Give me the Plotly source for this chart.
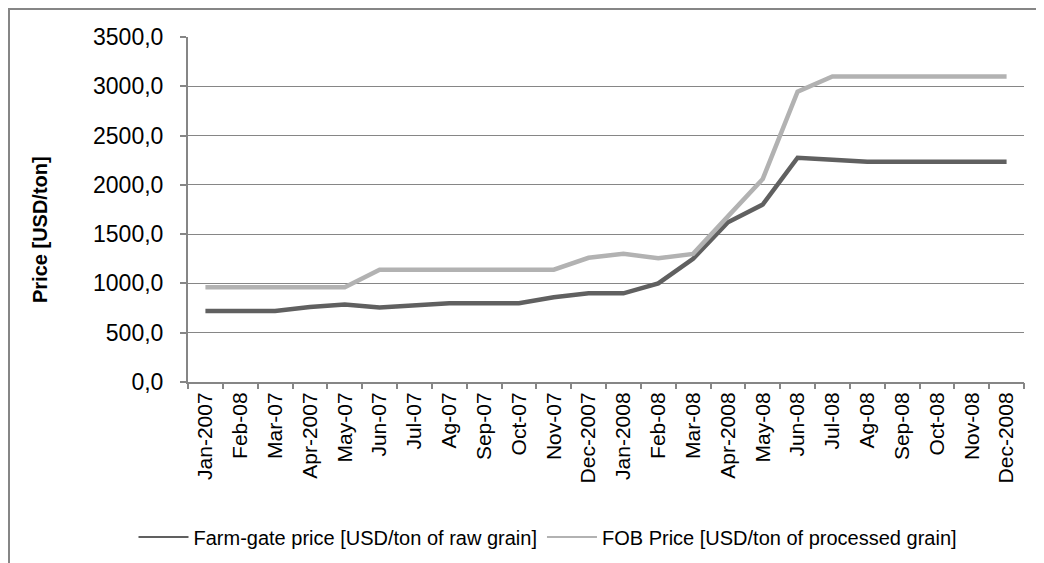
import plotly.graph_objects as go

months = ["Jan-2007", "Feb-08", "Mar-07", "Apr-2007", "May-07", "Jun-07", "Jul-07",
          "Ag-07", "Sep-07", "Oct-07", "Nov-07", "Dec-2007", "Jan-2008", "Feb-08",
          "Mar-08", "Apr-2008", "May-08", "Jun-08", "Jul-08", "Ag-08", "Sep-08",
          "Oct-08", "Nov-08", "Dec-2008"]
farm_gate = [720, 720, 720, 760, 785, 755, 780, 800, 800, 800, 860, 900,
             900, 1000, 1250, 1620, 1800, 2275, 2255, 2235, 2235, 2235, 2235, 2235]
fob_price = [960, 960, 960, 960, 960, 1140, 1140, 1140, 1140, 1140, 1140, 1260,
             1300, 1255, 1300, 1680, 2060, 2945, 3100, 3100, 3100, 3100, 3100, 3100]
y_ticks = [0, 500, 1000, 1500, 2000, 2500, 3000, 3500]

names = ["Farm-gate price [USD/ton of raw grain]", "FOB Price [USD/ton of processed grain]"]
colors = ["#606060", "#b2b2b2"]

W, H = 1044, 563
OFF = 8  # page body margin
L, R, T, B = 180, 28, 29, 189
pw, ph = W - L - R, H - T - B

def px_x(p):
    return (p - OFF - L) / pw

def px_y(p):
    return (H - B - (p - OFF)) / ph

idx = list(range(len(months)))
fig = go.Figure()
for series, name, col in zip([farm_gate, fob_price], names, colors):
    fig.add_trace(go.Scatter(x=idx, y=series, mode="lines", name=name,
                             showlegend=False, line=dict(color=col, width=4.5)))
for name, col in zip(names, colors):
    fig.add_trace(go.Scatter(x=[None], y=[None], mode="lines", name=name,
                             line=dict(color=col, width=2)))
# invisible trace to carry the boundary tick axis
fig.add_trace(go.Scatter(x=[None], y=[None], xaxis="x2", showlegend=False,
                         hoverinfo="skip"))

font_family = "Liberation Sans, Arial, sans-serif"
axis_col = "#868686"
rng = [-0.5, len(months) - 0.5]

fig.update_layout(
    width=W, height=H,
    margin=dict(l=L, r=R, t=T, b=B, autoexpand=False),
    paper_bgcolor="white", plot_bgcolor="white",
    separators=",.",
    font=dict(family=font_family, size=20, color="black"),
    showlegend=True,
    legend=dict(orientation="h", x=px_x(548), y=px_y(537), xanchor="center",
                yanchor="middle", font=dict(size=20), itemwidth=50,
                traceorder="normal", bgcolor="rgba(0,0,0,0)"),
    xaxis=dict(range=rng, tickmode="array", tickvals=idx, ticktext=months,
               tickangle=-90, ticks="", showgrid=False, zeroline=False,
               showline=True, linecolor=axis_col, linewidth=2,
               tickfont=dict(size=21)),
    xaxis2=dict(range=rng, overlaying="x", anchor="y", side="bottom",
                tickmode="array", tickvals=[i - 0.5 for i in range(len(months) + 1)],
                ticks="outside", ticklen=6, tickcolor=axis_col, tickwidth=2,
                showticklabels=False, showgrid=False, zeroline=False, showline=False),
    yaxis=dict(range=[0, 3500], tickmode="array", tickvals=y_ticks, tickformat=".1f",
               ticks="outside", ticklen=6, tickcolor=axis_col, tickwidth=2,
               showgrid=True, gridcolor=axis_col, gridwidth=1.4, zeroline=False,
               showline=True, linecolor=axis_col, linewidth=2,
               ticklabelstandoff=12, tickfont=dict(size=23)),
    annotations=[dict(text="<b>Price [USD/ton]</b>", textangle=-90, xref="paper",
                      yref="paper", x=px_x(40), y=px_y(230), showarrow=False,
                      xanchor="center", yanchor="middle", font=dict(size=20))],
    shapes=[dict(type="rect", xref="paper", yref="paper", x0=px_x(9), x1=px_x(1060),
                 y0=px_y(580), y1=px_y(9), line=dict(color=axis_col, width=2),
                 layer="below")],
)

fig.write_html("out.html")
